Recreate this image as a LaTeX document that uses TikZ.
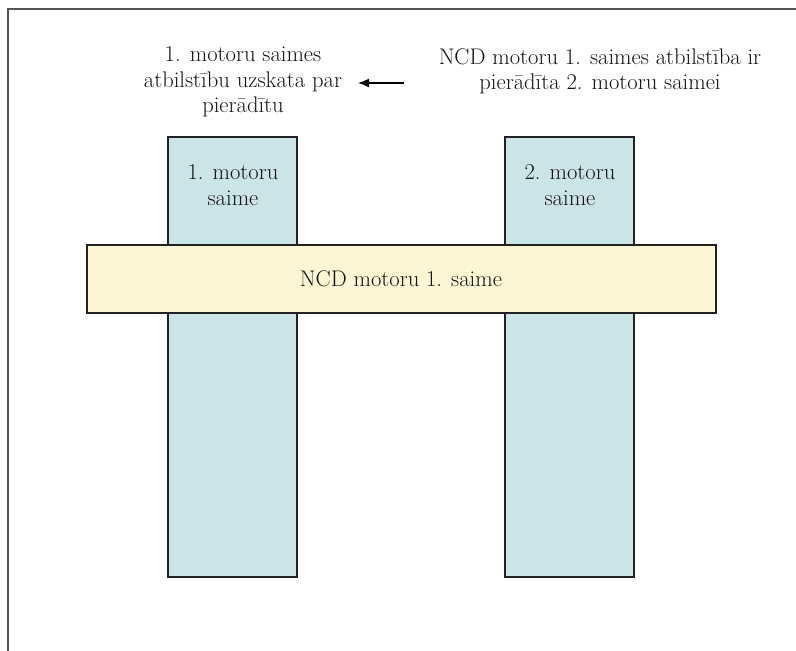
\documentclass[tikz,border=0pt]{standalone}
\usepackage{fontspec}
\usetikzlibrary{arrows.meta}
\definecolor{famblue}{RGB}{203,228,230}
\definecolor{famyellow}{RGB}{253,246,212}
\definecolor{edge}{RGB}{34,34,34}
\definecolor{framegray}{RGB}{85,85,85}
\tikzset{
  family/.style={draw=edge, line width=1.6pt, fill=famblue},
  band/.style={draw=edge, line width=1.6pt, fill=famyellow},
  lbl/.style={font=\fontsize{22.6}{25.3}\selectfont, text=black!92, align=center, inner sep=0pt},
}
\begin{document}
\begin{tikzpicture}[x=1pt,y=-1pt]
\useasboundingbox (0,0) rectangle (796,651);
\coordinate (fa) at (8,651);
\coordinate (fb) at (8,9);
\coordinate (fc) at (796,9);
\draw[framegray, line width=1.8pt] (fa) -- (fb) -- (fc);
\draw[family] (168,137) rectangle (297,577);
\draw[family] (505,137) rectangle (634,577);
\draw[band] (87,245) rectangle (716,313);
\node[lbl] (f1) at (233,185) {1. motoru\\saime};
\node[lbl] (f2) at (570,185) {2. motoru\\saime};
\node[lbl, anchor=base] (ncd) at (401,286.5) {NCD motoru 1. saime};
\node[lbl] (left) at (243,82) {1. motoru saimes\\atbilstību uzskata par\\pierādītu};
\node[lbl] (right) at (600,71) {NCD motoru 1. saimes atbilstība ir\\pierādīta 2. motoru saimei};
\coordinate (as) at (404,83);
\coordinate (ae) at (358,83);
\draw[-{Latex[length=11pt,width=9pt]}, line width=1.5pt, black] (as) -- (ae);
\end{tikzpicture}
\end{document}
